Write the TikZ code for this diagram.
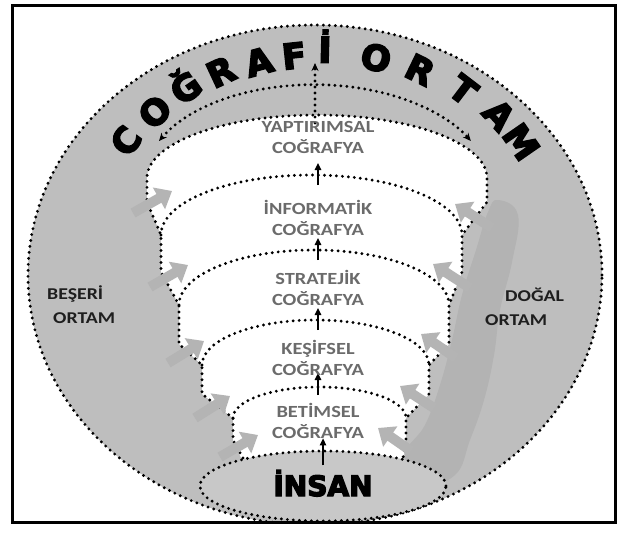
\documentclass[tikz,border=0pt]{standalone}
\usepackage{fontspec}
\setmainfont{Carlito}
\usetikzlibrary{arrows.meta, shapes.geometric}
\newfontfamily\levelfont[FakeStretch=1.2]{Carlito}
\newfontfamily\heavyfont[FakeBold=5]{DejaVu Sans}
\definecolor{ringGray}{HTML}{BEBEBE}
\definecolor{bandGray}{HTML}{B3B3B3}
\definecolor{arrowGray}{HTML}{B4B4B4}
\definecolor{insanGray}{HTML}{C8C8C8}
\definecolor{textGray}{HTML}{6B6B6B}
\definecolor{labelBlack}{HTML}{1E1E1E}

\begin{document}
\begin{tikzpicture}[
    x=1pt, y=1pt,
    dotTip/.tip={Stealth[length=8pt, width=7pt]},
    dotline/.style={line width=3.2pt, line cap=round, dash pattern=on 0pt off 6pt},
    ringbox/.style={dotline, fill=ringGray},
    leveltext/.style={font=\levelfont\bfseries\fontsize{17}{21}\selectfont,
        text=textGray, align=center, inner sep=0pt},
    sidelabel/.style={font=\levelfont\bfseries\fontsize{16.5}{24}\selectfont,
        text=labelBlack, align=left, inner sep=0pt, anchor=west},
    titlechar/.style={font=\heavyfont\bfseries\fontsize{35}{35}\selectfont,
        inner sep=0pt, text height=25pt, text depth=0pt},
    uparrow/.style={line width=1.3pt, -{Triangle[length=7pt, width=6.5pt]}},
    grayarrow/.style={line width=10pt, draw=arrowGray, -{Triangle[length=15pt, width=24pt]}},
]
\useasboundingbox (0,0) rectangle (621,-533);

\begin{scope}
\clip (12,-5) rectangle (615,-522);

% ============================================
% Outer ring (geographic environment)
% ============================================
\draw[ringbox] (315,-275) ellipse [x radius=287pt, y radius=250pt];
\fill[bandGray] plot[smooth cycle, tension=0.7] coordinates {(498,-200) (518,-215) (512,-262)
    (500,-310) (494,-355) (484,-400) (470,-440) (455,-475) (420,-485) (405,-455) (425,-425)
    (440,-385) (452,-340) (462,-295) (476,-250) (488,-212)};

% ============================================
% Stacked levels (white funnel)
% ============================================
\fill[white] (147,-178) arc[start angle=180, end angle=0, x radius=170pt, y radius=63pt]
    -- (487,-202) -- (462,-235) -- (462,-272) -- (449,-305) -- (449,-344) -- (429,-365)
    -- (429,-394) -- (406,-418) -- (406,-440) -- (403,-462) -- (243,-462) -- (233,-440)
    -- (233,-418) -- (202,-394) -- (202,-365) -- (179,-344) -- (179,-305) -- (161,-272)
    -- (161,-235) -- (147,-202) -- cycle;

\draw[dotline] (243,-458) -- (233,-440) -- (233,-418) -- (202,-394) -- (202,-365)
    -- (179,-344) -- (179,-305) -- (161,-272) -- (161,-235) -- (147,-202) -- (147,-178)
    arc[start angle=180, end angle=0, x radius=170pt, y radius=63pt]
    -- (487,-202) -- (462,-235) -- (462,-272) -- (449,-305) -- (449,-344) -- (429,-365)
    -- (429,-394) -- (406,-418) -- (406,-440) -- (403,-458);

\draw[dotline] (161,-235) arc[start angle=180, end angle=0, x radius=150.5pt, y radius=60pt];
\draw[dotline] (179,-305) arc[start angle=180, end angle=0, x radius=135pt, y radius=55pt];
\draw[dotline] (202,-365) arc[start angle=180, end angle=0, x radius=113.5pt, y radius=45pt];
\draw[dotline] (233,-418) arc[start angle=180, end angle=0, x radius=86.5pt, y radius=31pt];

\coordinate (top1) at (315,-115);
\coordinate (top2) at (318,-175);
\coordinate (top3) at (318,-250);
\coordinate (top4) at (318,-320);
\coordinate (top5) at (318,-387);
\coordinate (peak) at (315,-63);
\coordinate (spanL) at (159,-141);

% ============================================
% Human core
% ============================================
\node[ellipse, dotline, draw, fill=insanGray, minimum width=246pt, minimum height=70pt,
      inner sep=0pt, text height=20pt, text depth=0pt,
      font=\heavyfont\bfseries\fontsize{28}{28}\selectfont] (insan) at (323,-486) {İNSAN};

% ============================================
% Gray arrows from both environments
% ============================================
\draw[grayarrow] (133,-213) -- (172,-191);
\draw[grayarrow] (150,-287) -- (188,-265);
\draw[grayarrow] (168,-363) -- (204,-341);
\draw[grayarrow] (195,-418) -- (230,-396);
\draw[grayarrow] (220,-457) -- (258,-435);

\draw[grayarrow] (492,-228) -- (455,-204);
\draw[grayarrow] (470,-288) -- (433,-264);
\draw[grayarrow] (456,-358) -- (421,-334);
\draw[grayarrow] (434,-408) -- (400,-386);
\draw[grayarrow] (411,-451) -- (378,-428);

% ============================================
% Upward flow
% ============================================
\draw[uparrow] ([yshift=-16pt]insan.north) -- ([yshift=11pt]insan.north);
\draw[uparrow] ([yshift=-8pt]top5) -- ([yshift=14pt]top5);
\draw[uparrow] ([yshift=-10pt]top4) -- ([yshift=12pt]top4);
\draw[uparrow] ([yshift=-10pt]top3) -- ([yshift=12pt]top3);
\draw[uparrow] ([yshift=-10pt]top2) -- ([yshift=12pt]top2);
\draw[dotline, -dotTip] ([yshift=-8pt]top1) -- (peak);
\draw[dotline, dotTip-dotTip] (spanL) arc[start angle=153, end angle=27, x radius=175pt, y radius=103pt];

% ============================================
% Labels
% ============================================
\node[leveltext] (yaptirimsal) at (318,-137) {YAPTIRIMSAL\\COĞRAFYA};
\node[leveltext] (informatik) at (318,-217.5) {İNFORMATİK\\COĞRAFYA};
\node[leveltext] (stratejik) at (318,-288) {STRATEJİK\\COĞRAFYA};
\node[leveltext] (kesifsel) at (318,-357.5) {KEŞİFSEL\\COĞRAFYA};
\node[leveltext] (betimsel) at (318,-421) {BETİMSEL\\COĞRAFYA};

\node[sidelabel] (beseri) at (47,-305) {BEŞERİ\\\hspace*{6pt}ORTAM};
\node[sidelabel] (dogal) at (485,-307) {\hspace*{20pt}DOĞAL\\ORTAM};

% title along the ring
\node[titlechar, rotate=53.8] (c1) at (126,-141) {C};
\node[titlechar, rotate=44.1] (c2) at (155,-112) {O};
\node[titlechar, rotate=34.9] (c3) at (186,-88) {Ğ};
\node[titlechar, rotate=25] (c4) at (221,-72) {R};
\node[titlechar, rotate=15.1] (c5) at (259,-62) {A};
\node[titlechar, rotate=6.1] (c6) at (294,-56) {F};
\node[titlechar, rotate=-1.5] (c7) at (325,-50) {İ};
\node[titlechar, rotate=-14.6] (c8) at (376,-58) {O};
\node[titlechar, rotate=-25.8] (c9) at (420,-70) {R};
\node[titlechar, rotate=-37.3] (c10) at (463,-90) {T};
\node[titlechar, rotate=-47.5] (c11) at (499,-115) {A};
\node[titlechar, rotate=-55.3] (c12) at (521,-142) {M};
\end{scope}

% frame
\draw[line width=3pt] (12,-5) rectangle (615,-522);
\end{tikzpicture}
\end{document}
